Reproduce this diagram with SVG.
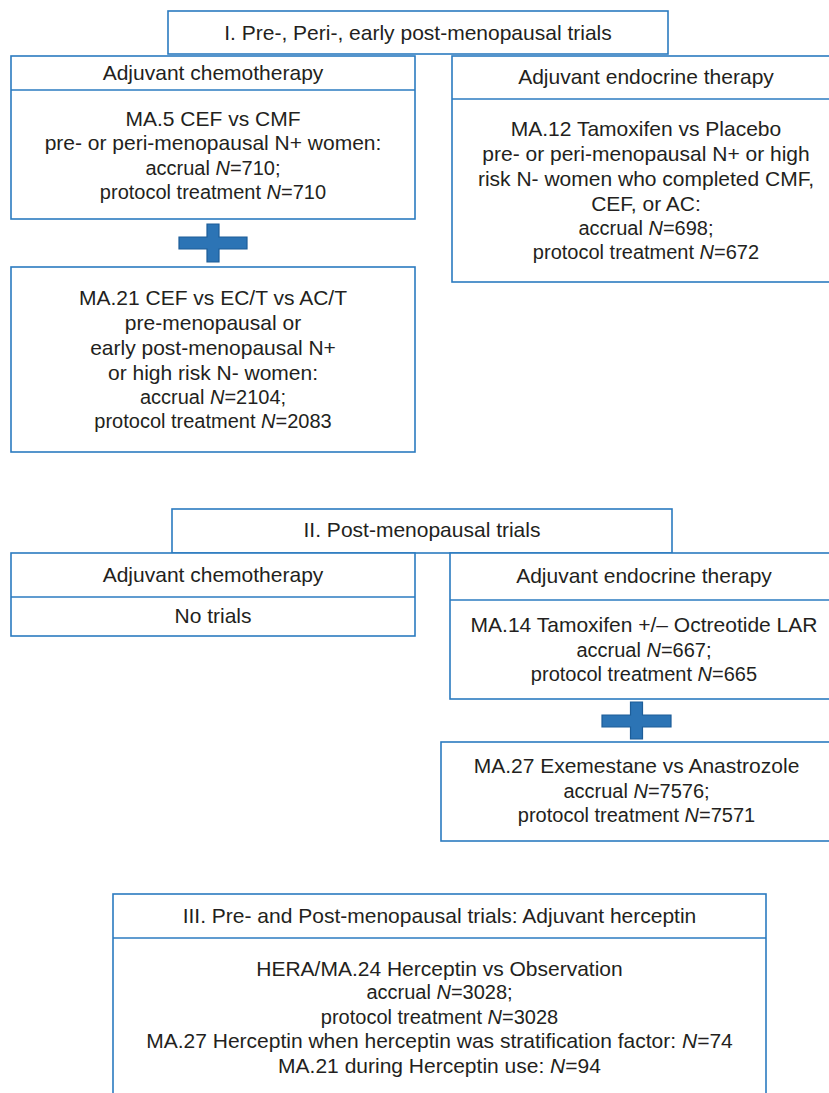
<svg xmlns="http://www.w3.org/2000/svg" width="829" height="1093" viewBox="0 0 829 1093">
<style>
.box{fill:#fff;stroke:#2b7bc0;stroke-width:1.6}
.div{stroke:#2b7bc0;stroke-width:1.6;fill:none}
text{font-family:"Liberation Sans",Arial,Helvetica,sans-serif;fill:#231f20;text-anchor:middle}
.h{font-size:21px}
.m{font-size:21px}
.n{font-size:20px}
.i{font-style:italic}
.plus{fill:#2c74b5;stroke:#1d5d98;stroke-width:1.2}
</style>
<rect x="0" y="0" width="829" height="1093" fill="#fff"/>

<g id="sec1-title">
<rect class="box" x="168" y="11" width="500" height="43"/>
<text class="h" x="418" y="40">I. Pre-, Peri-, early post-menopausal trials</text>
</g>

<g id="sec1-chemo">
<rect class="box" x="11" y="56" width="404" height="163"/>
<line class="div" x1="11" y1="90" x2="415" y2="90"/>
<text class="h" x="213" y="80">Adjuvant chemotherapy</text>
<text class="m" x="213" y="126">MA.5 CEF vs CMF</text>
<text class="m" x="213" y="150">pre- or peri-menopausal N+ women:</text>
<text class="n" x="213" y="175">accrual <tspan class="i">N</tspan>=710;</text>
<text class="n" x="213" y="199">protocol treatment <tspan class="i">N</tspan>=710</text>
</g>

<g id="sec1-ma21">
<rect class="box" x="11" y="267" width="404" height="185"/>
<text class="m" x="213" y="305">MA.21 CEF vs EC/T vs AC/T</text>
<text class="m" x="213" y="330">pre-menopausal or</text>
<text class="m" x="213" y="355">early post-menopausal N+</text>
<text class="m" x="213" y="380">or high risk N- women:</text>
<text class="n" x="213" y="404">accrual <tspan class="i">N</tspan>=2104;</text>
<text class="n" x="213" y="428">protocol treatment <tspan class="i">N</tspan>=2083</text>
</g>

<g id="sec1-endocrine">
<rect class="box" x="452" y="56" width="388" height="226"/>
<line class="div" x1="452" y1="99" x2="840" y2="99"/>
<text class="h" x="646" y="84">Adjuvant endocrine therapy</text>
<text class="m" x="646" y="136">MA.12 Tamoxifen vs Placebo</text>
<text class="m" x="646" y="161">pre- or peri-menopausal N+ or high</text>
<text class="m" x="646" y="186">risk N- women who completed CMF,</text>
<text class="m" x="646" y="211">CEF, or AC:</text>
<text class="n" x="646" y="235">accrual <tspan class="i">N</tspan>=698;</text>
<text class="n" x="646" y="259">protocol treatment <tspan class="i">N</tspan>=672</text>
</g>

<g id="sec2-title">
<rect class="box" x="172" y="509" width="500" height="44"/>
<text class="h" x="422" y="537">II. Post-menopausal trials</text>
</g>

<g id="sec2-chemo">
<rect class="box" x="11" y="553" width="404" height="83"/>
<line class="div" x1="11" y1="597" x2="415" y2="597"/>
<text class="h" x="213" y="582">Adjuvant chemotherapy</text>
<text class="m" x="213" y="623">No trials</text>
</g>

<g id="sec2-endocrine">
<rect class="box" x="450" y="553" width="388" height="146"/>
<line class="div" x1="450" y1="600" x2="838" y2="600"/>
<text class="h" x="644" y="583">Adjuvant endocrine therapy</text>
<text class="m" x="644" y="632">MA.14 Tamoxifen +/– Octreotide LAR</text>
<text class="n" x="644" y="657">accrual <tspan class="i">N</tspan>=667;</text>
<text class="n" x="644" y="681">protocol treatment <tspan class="i">N</tspan>=665</text>
</g>

<g id="sec2-ma27">
<rect class="box" x="441" y="742" width="391" height="99"/>
<text class="m" x="636.5" y="773">MA.27 Exemestane vs Anastrozole</text>
<text class="n" x="636.5" y="798">accrual <tspan class="i">N</tspan>=7576;</text>
<text class="n" x="636.5" y="822">protocol treatment <tspan class="i">N</tspan>=7571</text>
</g>

<g id="sec3-herceptin">
<rect class="box" x="113" y="894" width="653" height="220"/>
<line class="div" x1="113" y1="938" x2="766" y2="938"/>
<text class="h" x="439.5" y="923">III. Pre- and Post-menopausal trials: Adjuvant herceptin</text>
<text class="m" x="439.5" y="976">HERA/MA.24 Herceptin vs Observation</text>
<text class="n" x="439.5" y="999">accrual <tspan class="i">N</tspan>=3028;</text>
<text class="n" x="439.5" y="1024">protocol treatment <tspan class="i">N</tspan>=3028</text>
<text class="m" x="439.5" y="1048">MA.27 Herceptin when herceptin was stratification factor: <tspan class="i">N</tspan>=74</text>
<text class="m" x="439.5" y="1073">MA.21 during Herceptin use: <tspan class="i">N</tspan>=94</text>
</g>

<g id="connectors">
<path class="plus" d="M207,224 H219 V237 H247 V249 H219 V262 H207 V249 H179 V237 H207 Z"/>
<path class="plus" d="M630.5,702 H642.5 V715 H671 V727 H642.5 V739 H630.5 V727 H602 V715 H630.5 Z"/>
</g>
</svg>
